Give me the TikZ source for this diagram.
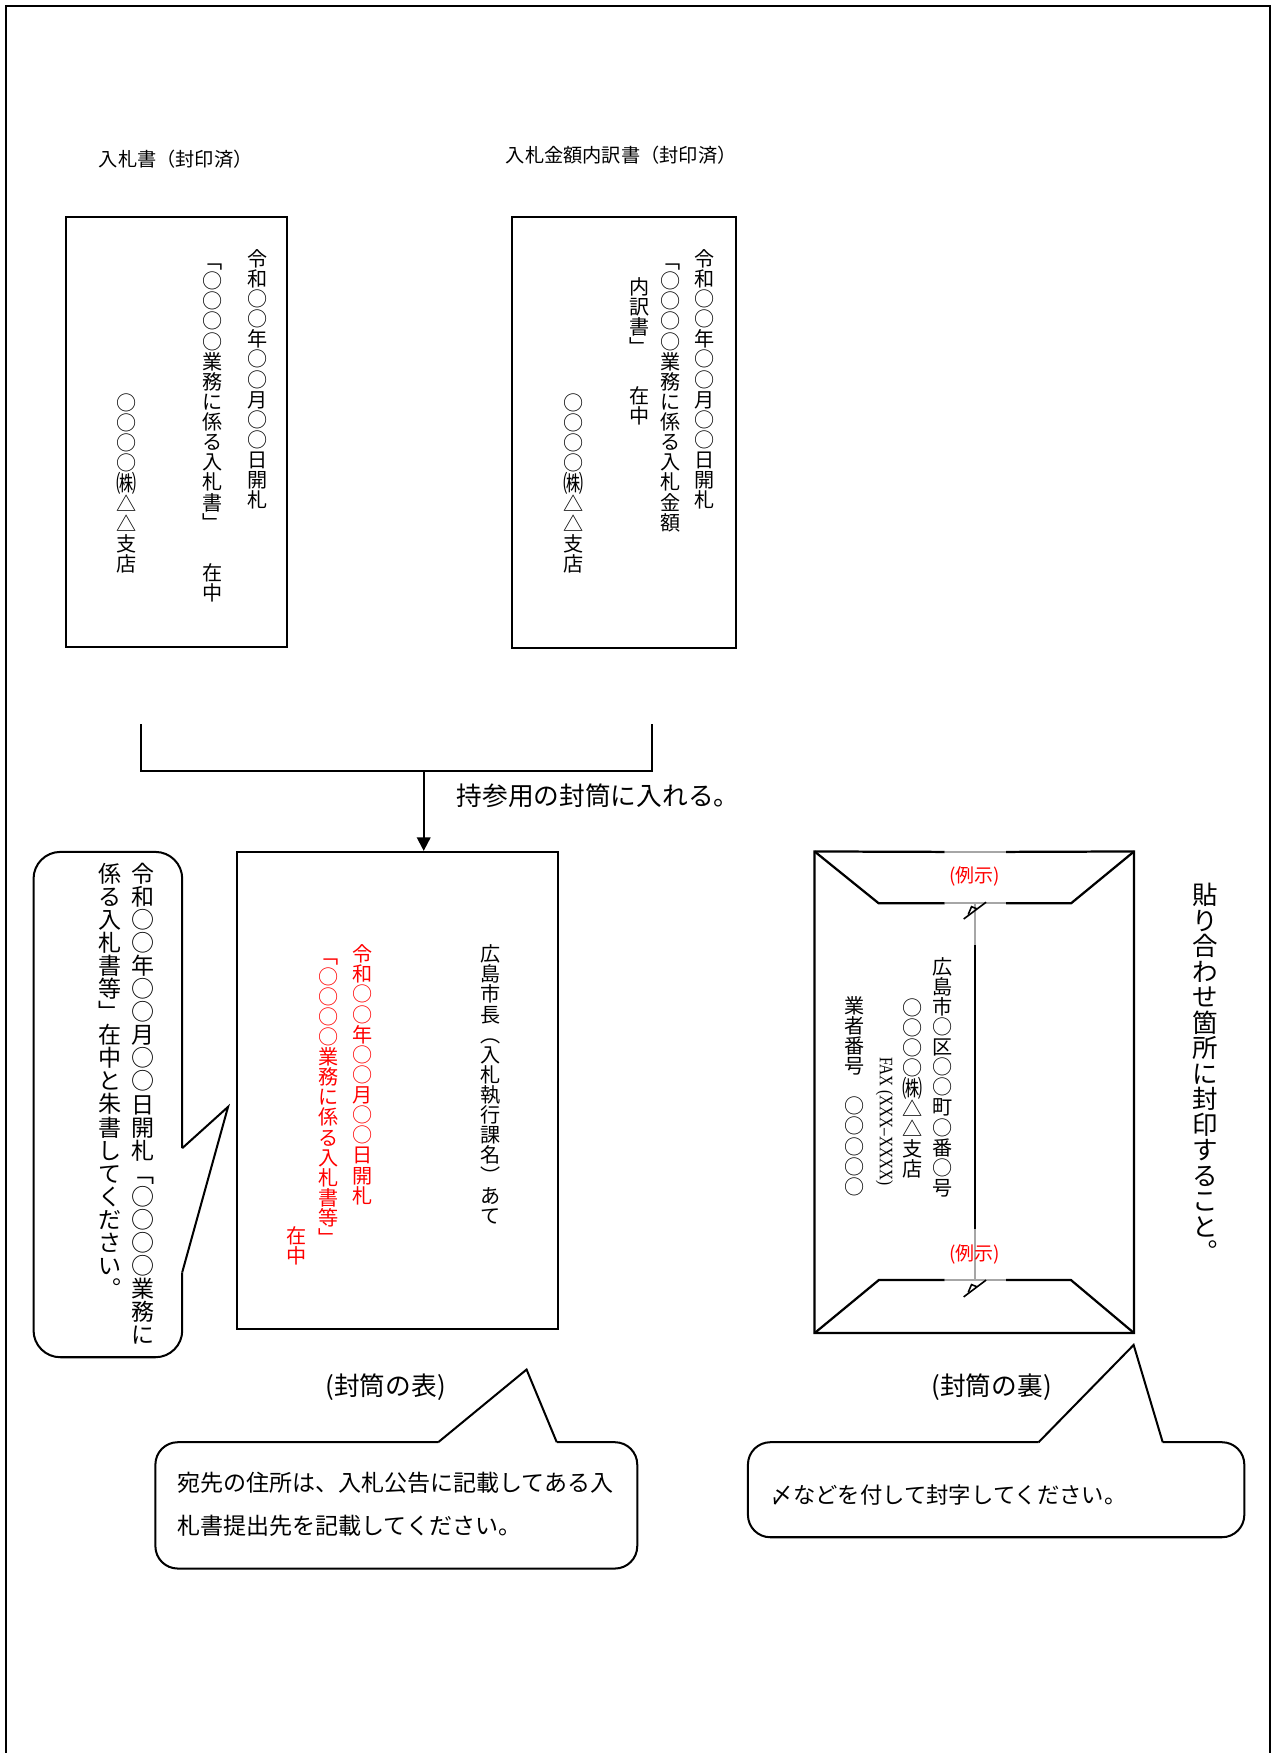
\documentclass[tikz,border=0pt]{standalone}
\usepackage{fontspec}
\setmainfont{Noto Sans CJK JP}
\newfontfamily\latinserif[FakeStretch=0.8]{Liberation Serif}
\usetikzlibrary{fit,arrows.meta}
\makeatletter
\newcommand\vtxt[2]{\vbox{\offinterlineskip\@tfor\vt@c:=#2\do{\vbox to #1{\vss\hbox to 1em{\hss\vrule height .88em depth .12em width 0pt\vt@c\hss}\vss}}}}
\makeatother
\newcommand\kabu{\raisebox{-0.06em}{\scalebox{1}[1.2]{㈱}}}
\begin{document}
\begin{tikzpicture}[x=0.5pt,y=-0.5pt,
  box/.style={draw, line width=0.9pt, inner sep=0pt},
  vm/.style={inner sep=0pt, anchor=north, font=\fontsize{9}{9}\selectfont},
  vg/.style={inner sep=0pt, anchor=north, font=\fontsize{10.3}{10.3}\selectfont},
  hz/.style={inner sep=0pt, anchor=west},
  bubble/.style={line width=0.9pt},
  redtxt/.style={text=red}]
\useasboundingbox (0,0) rectangle (1141,1568);
% page frame
\draw[line width=0.9pt] (5,1590) -- (5,5) -- (1136,5) -- (1136,1590);

% titles
\node[hz, font=\fontsize{8.6}{9}\selectfont] (t1) at (88,142) {入札書（封印済）};
\node[hz, font=\fontsize{8.6}{9}\selectfont] (t2) at (452,139) {入札金額内訳書（封印済）};

% inner envelopes
\node[box, fit={(59,194)(257,579)}] (bid) {};
\node[box, fit={(458,194)(658,580)}] (det) {};

\node[vm] (b1a) at (230,222) {\vtxt{9pt}{令和○○年○○月○○日開札}};
\node[vm] (b1b) at (190,224) {\vtxt{9pt}{﹁○○○○業務に係る入札書﹂}};
\node[vm] (b1c) at (190,503) {\vtxt{9pt}{在中}};
\node[vm] (b1d) at (113,351) {\vtxt{9pt}{○○○○{\kabu}△△支店}};

\node[vm] (b2a) at (630,222) {\vtxt{9pt}{令和○○年○○月○○日開札}};
\node[vm] (b2b) at (600,224) {\vtxt{9pt}{﹁○○○○業務に係る入札金額}};
\node[vm] (b2c) at (572,247) {\vtxt{9pt}{内訳書﹂}};
\node[vm] (b2d) at (572,345) {\vtxt{9pt}{在中}};
\node[vm] (b2e) at (513,351) {\vtxt{9pt}{○○○○{\kabu}△△支店}};

% bracket and arrow
\coordinate (bl) at (126,648);
\coordinate (br) at (583,648);
\coordinate (jn) at (379,690);
\node[box, fit={(212,762)(499,1189)}] (front) {};
\draw[line width=0.9pt] (bl) -- (bl |- jn) -- (br |- jn) -- (br);
\draw[line width=0.9pt, -{Triangle[length=6pt,width=6pt]}] (jn) -- (jn |- front.north);
\node[hz, font=\fontsize{11.5}{12}\selectfont] (msg) at (408,712) {持参用の封筒に入れる。};

% front of envelope
\node[vm] (fa) at (439,844) {\vtxt{9pt}{広島市長︵入札執行課名︶あて}};
\node[vm, redtxt] (fb) at (324,844) {\vtxt{9pt}{令和○○年○○月○○日開札}};
\node[vm, redtxt] (fc) at (294,846) {\vtxt{9pt}{﹁○○○○業務に係る入札書等﹂}};
\node[vm, redtxt] (fd) at (265,1096) {\vtxt{9pt}{在中}};
\node[inner sep=0pt, font=\fontsize{11.5}{12}\selectfont] (lfront) at (345,1241) {(封筒の表)};

% back of envelope
\node[inner sep=0pt, fit={(729,762)(1014,1192)}] (back) {};
\begin{scope}[line width=1pt]
\draw (845,762) -- (back.north west) -- (back.south west) -- (back.south east) -- (back.north east) -- (900,762);
\draw (back.north west) -- (786,808) -- (845,808);
\draw (900,808) -- (958,808) -- (back.north east);
\draw (back.south west) -- (786,1145) -- (845,1145);
\draw (900,1145) -- (958,1145) -- (back.south east);
\draw (872,845) -- (872,1099);
\end{scope}
\begin{scope}[line width=1pt, gray!70]
\draw (845,762) -- (900,762);
\draw (845,808) -- (900,808);
\draw (845,1145) -- (900,1145);
\draw (872,808) -- (872,845);
\draw (872,1099) -- (872,1145);
\end{scope}
\begin{scope}[line width=0.7pt]
\draw (862,822) -- (882,807);
\draw (866,818) -- (869,811) -- (874,813);
\draw (862,1160) -- (882,1145);
\draw (866,1156) -- (869,1149) -- (874,1151);
\end{scope}
\node[inner sep=0pt, redtxt, font=\fontsize{8.5}{9}\selectfont] (ex1) at (872,784) {(例示)};
\node[inner sep=0pt, redtxt, font=\fontsize{8.5}{9}\selectfont] (ex2) at (872,1122) {(例示)};
\node[vm] (ba) at (843,855) {\vtxt{9pt}{広島市○区○○町○番○号}};
\node[vm] (bb) at (816,892) {\vtxt{9pt}{○○○○{\kabu}△△支店}};
\node[inner sep=0pt, rotate=-90, font=\latinserif\fontsize{8.5}{9}\selectfont] (bc) at (791,1003) {FAX (XXX–XXXX)};
\node[vm] (bd) at (764,890) {\vtxt{9pt}{業者番号　○○○○○}};
\node[inner sep=0pt, font=\fontsize{11.5}{12}\selectfont] (lback) at (887,1241) {(封筒の裏)};

\node[inner sep=0pt, anchor=north, font=\fontsize{11.4}{11.4}\selectfont] (seal) at (1078,789) {\vtxt{11.4pt}{貼り合わせ箇所に封印すること︒}};

% left callout
\draw[bubble, rounded corners=12pt] (163,1138) -- (163,1214) -- (30,1214) -- (30,762) -- (163,762) -- (163,1027);
\draw[bubble] (163,1027) -- (204,990) -- (163,1138);
\node[vg] (ca) at (128,771) {\vtxt{10.3pt}{令和○○年○○月○○日開札﹁○○○○業務に}};
\node[vg] (cb) at (98,771) {\vtxt{10.3pt}{係る入札書等﹂在中と朱書してください︒}};

% bottom callout 1
\draw[bubble, rounded corners=10pt] (498,1290) -- (570,1290) -- (570,1403) -- (139,1403) -- (139,1290) -- (392,1290);
\draw[bubble] (392,1290) -- (471,1225) -- (498,1290);
\node[hz, font=\fontsize{10.3}{11}\selectfont] (d1) at (158,1326) {宛先の住所は、入札公告に記載してある入};
\node[hz, font=\fontsize{10.3}{11}\selectfont] (d2) at (158,1365) {札書提出先を記載してください。};

% bottom callout 2
\draw[bubble, rounded corners=10pt] (1040,1290) -- (1113,1290) -- (1113,1375) -- (669,1375) -- (669,1290) -- (929,1290);
\draw[bubble] (929,1290) -- (1014,1203) -- (1040,1290);
\node[hz, font=\fontsize{10}{11}\selectfont] (e1) at (689,1337) {〆などを付して封字してください。};
\end{tikzpicture}
\end{document}
